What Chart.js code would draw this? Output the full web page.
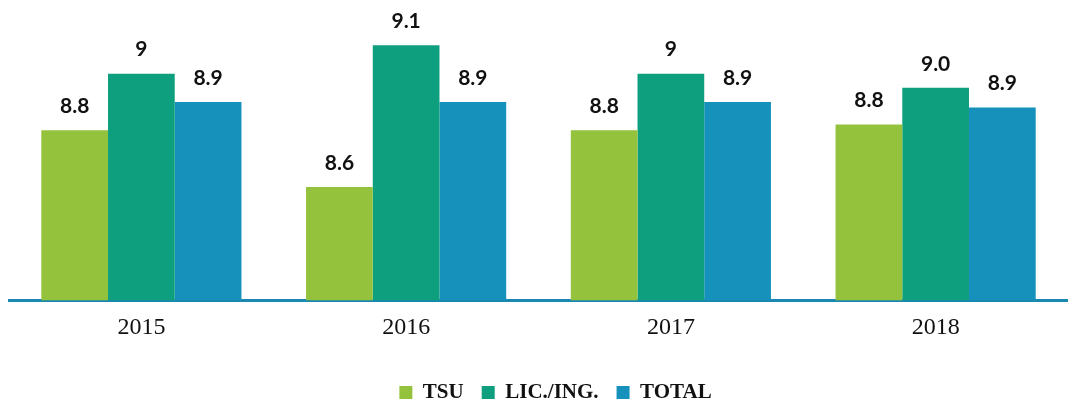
<!DOCTYPE html>
<html>
<head>
<meta charset="utf-8">
<script src="https://cdn.jsdelivr.net/npm/chart.js@4"></script>
<style>
  body { margin: 0; background: #fff; }
  #wrap { width: 1068px; height: 404px; position: relative; }
</style>
</head>
<body>
<div id="wrap"><canvas id="chart"></canvas></div>
<script>
const years = ["2015", "2016", "2017", "2018"];
const tsu = [8.8, 8.6, 8.8, 8.82];
const licIng = [9.0, 9.1, 9.0, 8.95];
const total = [8.9, 8.9, 8.9, 8.88];
// texts printed above the bars, as in the picture
const tsuLabels = ["8.8", "8.6", "8.8", "8.8"];
const licIngLabels = ["9", "9.1", "9", "9.0"];
const totalLabels = ["8.9", "8.9", "8.9", "8.9"];

const colores = ["#95c23d", "#0e9f7e", "#1591bb"];

// dibuja los valores sobre cada barra
const valueLabels = {
  id: "valueLabels",
  afterDatasetsDraw(chart) {
    const ctx = chart.ctx;
    ctx.save();
    ctx.font = "bold 21px Lato";
    ctx.fillStyle = "#111";
    ctx.textAlign = "center";
    ctx.textBaseline = "middle";
    chart.data.datasets.forEach((ds, i) => {
      const meta = chart.getDatasetMeta(i);
      meta.data.forEach((bar, j) => {
        ctx.fillText(ds.valueTexts[j], bar.x, bar.y - 24);
      });
    });
    ctx.restore();
  },
};

// la leyenda del original está un poco más abajo y a la derecha
const legendShift = {
  id: "legendShift",
  afterLayout(chart) {
    const lg = chart.legend;
    lg.left += 17;
    lg.right += 17;
    lg.top += 17;
    lg.bottom += 17;
  },
};

new Chart(document.getElementById("chart"), {
  type: "bar",
  data: {
    labels: years,
    datasets: [
      { label: "TSU", data: tsu, valueTexts: tsuLabels, backgroundColor: colores[0] },
      { label: "LIC./ING.", data: licIng, valueTexts: licIngLabels, backgroundColor: colores[1] },
      { label: "TOTAL", data: total, valueTexts: totalLabels, backgroundColor: colores[2] },
    ],
  },
  options: {
    responsive: true,
    maintainAspectRatio: false,
    animation: false,
    categoryPercentage: 0.756,
    barPercentage: 1.0,
    layout: { padding: { top: 17, left: 9, right: 0, bottom: 8 } },
    plugins: {
      tooltip: { enabled: false },
      legend: {
        position: "bottom",
        labels: {
          boxWidth: 13,
          boxHeight: 13,
          padding: 18,
          color: "#111",
          font: { family: "Liberation Serif", weight: "bold", size: 21 },
        },
      },
    },
    scales: {
      x: {
        grid: { display: false },
        border: { display: true, color: "#1a88b0", width: 3 },
        ticks: {
          color: "#111",
          padding: 5,
          font: { family: "Liberation Serif", size: 24 },
        },
      },
      y: {
        display: false,
        min: 8.2,
        max: 9.2,
      },
    },
  },
  plugins: [valueLabels, legendShift],
});
</script>
</body>
</html>
